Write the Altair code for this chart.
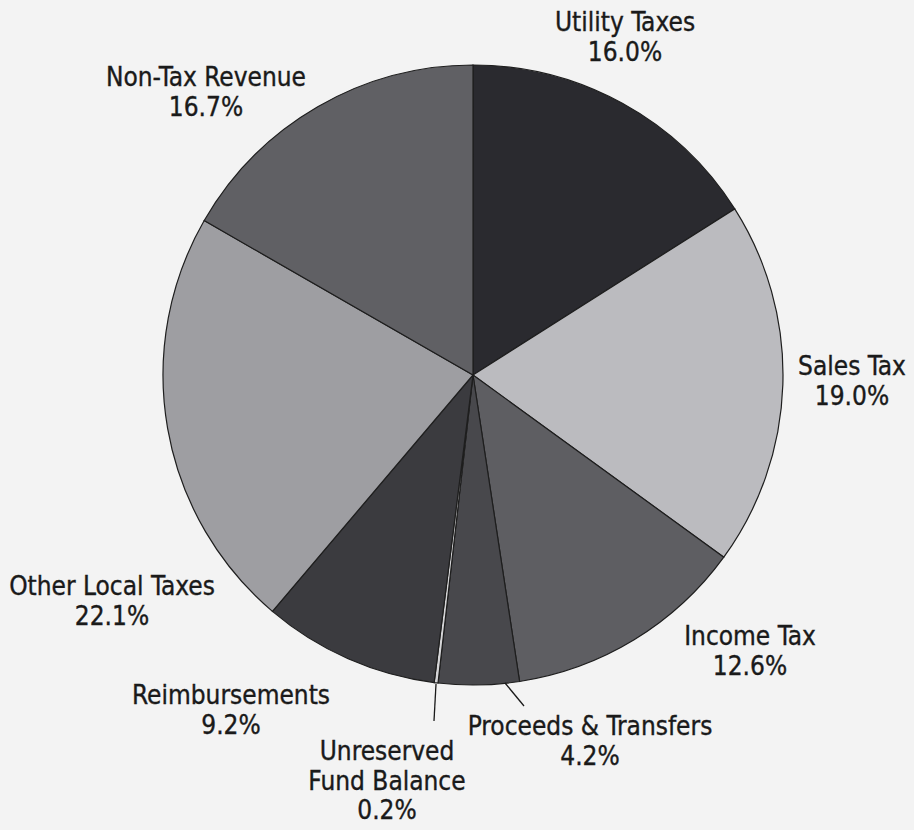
import altair as alt
import pandas as pd

# Slices, clockwise from 12 o'clock
categories = ["Utility Taxes", "Sales Tax", "Income Tax", "Proceeds & Transfers",
              "Unreserved Fund Balance", "Reimbursements", "Other Local Taxes", "Non-Tax Revenue"]
values = [16.0, 19.0, 12.6, 4.2, 0.2, 9.2, 22.1, 16.7]
label_names = ["Utility Taxes", "Sales Tax", "Income Tax", "Proceeds & Transfers",
               "Unreserved\nFund Balance", "Reimbursements", "Other Local Taxes", "Non-Tax Revenue"]
slice_colors = ["#2a2a2f", "#bbbbbf", "#5e5e62", "#48484c",
                "#d4d4d6", "#3b3b3f", "#9e9ea2", "#606064"]

# label anchor layout (pixels, centre of first line)
label_pos = [(625, 23), (852, 367), (750, 637), (590, 727),
             (387, 752), (231, 696), (112, 587), (206, 78)]

CX, CY, R = 473, 375, 310
FONT = "DejaVu Sans Condensed"

df = pd.DataFrame({"category": categories, "value": values, "order": list(range(len(values)))})

pie = alt.Chart(df).mark_arc(radius=R, stroke="#1e1e1e", strokeWidth=1.2).encode(
    theta=alt.Theta("value:Q", stack=True),
    order=alt.Order("order:Q"),
    color=alt.Color("category:N", scale=alt.Scale(domain=categories, range=slice_colors), legend=None),
    x=alt.value(CX),
    y=alt.value(CY),
)

layers = [pie]

for name, v, (lx, ly) in zip(label_names, values, label_pos):
    lab = pd.DataFrame({"t": [f"{name}\n{v:.1f}%"]})
    layers.append(
        alt.Chart(lab).mark_text(
            font=FONT, fontSize=26, color="#1a1a1a", align="center", baseline="middle",
            lineBreak="\n", lineHeight=29.5, stroke="#1a1a1a", strokeWidth=0.35
        ).encode(text="t:N", x=alt.value(lx), y=alt.value(ly))
    )

# leader lines
leaders = [((436, 684), (434, 721)), ((505, 683), (524, 706))]
for (x1, y1), (x2, y2) in leaders:
    layers.append(
        alt.Chart(pd.DataFrame({"a": [0]})).mark_rule(color="#1a1a1a", strokeWidth=1.3).encode(
            x=alt.value(x1), y=alt.value(y1), x2=alt.value(x2), y2=alt.value(y2)
        )
    )

chart = alt.layer(*layers).properties(
    width=914, height=830, background="#f3f3f3", padding=0,
    autosize=alt.AutoSizeParams(type="none")
).configure_view(stroke=None)

chart.save("out.html", embed_options={"renderer": "svg", "actions": False})
